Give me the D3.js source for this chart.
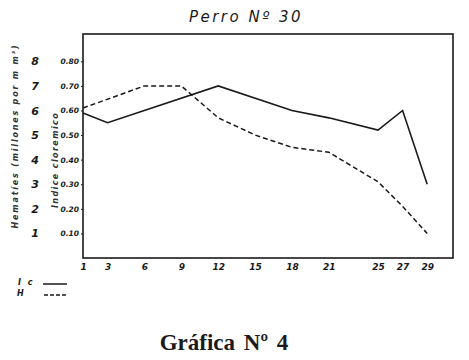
<!DOCTYPE html>
<html>
<head>
<meta charset="utf-8">
<script src="https://cdn.jsdelivr.net/npm/d3@7"></script>
<style>
  body { margin: 0; background: #fff; }
  svg { display: block; }
  .tick text { fill: #1a1a1a; font-style: italic; font-weight: bold; }
</style>
</head>
<body>
<svg id="chart"></svg>
<script>
// data
const days = [1, 3, 6, 9, 12, 15, 18, 21, 25, 27, 29];
const icDays = [1, 3, 12, 18, 21, 25, 27, 29];
const icValues = [0.59, 0.55, 0.70, 0.60, 0.57, 0.52, 0.60, 0.30];
const hDays = [1, 6, 9, 12, 15, 18, 21, 25, 27, 29];
const hValues = [0.61, 0.70, 0.70, 0.57, 0.50, 0.45, 0.43, 0.31, 0.21, 0.10];
const indexTicks = [0.1, 0.2, 0.3, 0.4, 0.5, 0.6, 0.7, 0.8];
const hemTicks = [1, 2, 3, 4, 5, 6, 7, 8];

const W = 469, H = 360;
const margin = { top: 34, right: 16, bottom: 102, left: 83 };
const width = W - margin.left - margin.right;
const height = H - margin.top - margin.bottom;
const ink = "#1a1a1a";

const svg = d3.select("#chart").attr("width", W).attr("height", H);
const g = svg.append("g").attr("transform", `translate(${margin.left},${margin.top})`);

// scales
const x = d3.scaleLinear().domain([1, 31.1]).range([0, width]);
const y = d3.scaleLinear().domain([0, 0.911]).range([height, 0]);
const yHem = d3.scaleLinear().domain([0, 9.11]).range([height, 0]);

// frame
g.append("rect")
    .attr("width", width).attr("height", height)
    .attr("fill", "none").attr("stroke", ink).attr("stroke-width", 1.6);

// x axis
const xAxis = g.append("g")
    .attr("transform", `translate(0,${height})`)
    .call(d3.axisBottom(x).tickValues(days).tickSize(0).tickPadding(6).tickFormat(d3.format("d")));
xAxis.select(".domain").remove();
xAxis.selectAll("text").style("font-family", "DejaVu Sans").style("font-size", "9px");

// indice cloremico axis
const yAxis = g.append("g")
    .call(d3.axisLeft(y).tickValues(indexTicks).tickSize(2).tickPadding(2).tickFormat(d3.format(".2f")));
yAxis.select(".domain").remove();
yAxis.selectAll("line").attr("stroke", ink);
yAxis.selectAll("text").style("font-family", "DejaVu Sans").style("font-size", "7.5px");

// hematies axis
const hAxis = g.append("g")
    .attr("transform", "translate(-44,0)")
    .call(d3.axisLeft(yHem).tickValues(hemTicks).tickSize(0).tickPadding(0).tickFormat(d3.format("d")));
hAxis.select(".domain").remove();
hAxis.selectAll("text").style("font-family", "DejaVu Sans").style("font-size", "11px");

// axis titles
svg.append("text")
    .attr("transform", "translate(18,136) rotate(-90)")
    .attr("text-anchor", "middle")
    .style("font-family", "DejaVu Sans").style("font-style", "italic").style("font-weight", "bold")
    .style("font-size", "8px").style("letter-spacing", "1.8px").attr("fill", "#333")
    .text("Hematíes (millones por m m³)");

svg.append("text")
    .attr("transform", "translate(58,160) rotate(-90)")
    .attr("text-anchor", "middle")
    .style("font-family", "DejaVu Sans").style("font-style", "italic").style("font-weight", "bold")
    .style("font-size", "8px").style("letter-spacing", "1.4px").attr("fill", "#333")
    .text("Indice cloremico");

// lines
const line = d3.line().x(d => x(d[0])).y(d => y(d[1]));

g.append("path")
    .datum(icDays.map((d, i) => [d, icValues[i]]))
    .attr("fill", "none").attr("stroke", ink).attr("stroke-width", 1.6)
    .attr("stroke-linejoin", "miter")
    .attr("d", line);

g.append("path")
    .datum(hDays.map((d, i) => [d, hValues[i]]))
    .attr("fill", "none").attr("stroke", ink).attr("stroke-width", 1.5)
    .attr("stroke-dasharray", "5,3")
    .attr("d", line);

// title
svg.append("text")
    .attr("x", 246).attr("y", 22)
    .attr("text-anchor", "middle")
    .style("font-family", "DejaVu Sans").style("font-style", "italic")
    .style("font-size", "15px").style("letter-spacing", "2.5px").attr("fill", ink)
    .text("Perro Nº 30");

// legend
const legend = svg.append("g").attr("transform", "translate(16,0)");
legend.append("text").attr("x", 2).attr("y", 285)
    .style("font-family", "DejaVu Sans").style("font-style", "italic").style("font-weight", "bold")
    .style("font-size", "8px").style("letter-spacing", "2px").attr("fill", ink).text("I c");
legend.append("line").attr("x1", 27).attr("x2", 51).attr("y1", 284).attr("y2", 284)
    .attr("stroke", ink).attr("stroke-width", 1.5);
legend.append("text").attr("x", 1).attr("y", 296)
    .style("font-family", "DejaVu Sans").style("font-style", "italic").style("font-weight", "bold")
    .style("font-size", "8px").attr("fill", ink).text("H");
legend.append("line").attr("x1", 28).attr("x2", 52).attr("y1", 295).attr("y2", 295)
    .attr("stroke", ink).attr("stroke-width", 1.5).attr("stroke-dasharray", "4,2");

// caption
svg.append("text")
    .attr("x", 224).attr("y", 350)
    .attr("text-anchor", "middle")
    .style("font-family", "Liberation Serif").style("font-weight", "bold")
    .style("font-size", "23px").style("word-spacing", "3px").attr("fill", ink)
    .text("Gráfica Nº 4");
</script>
</body>
</html>
